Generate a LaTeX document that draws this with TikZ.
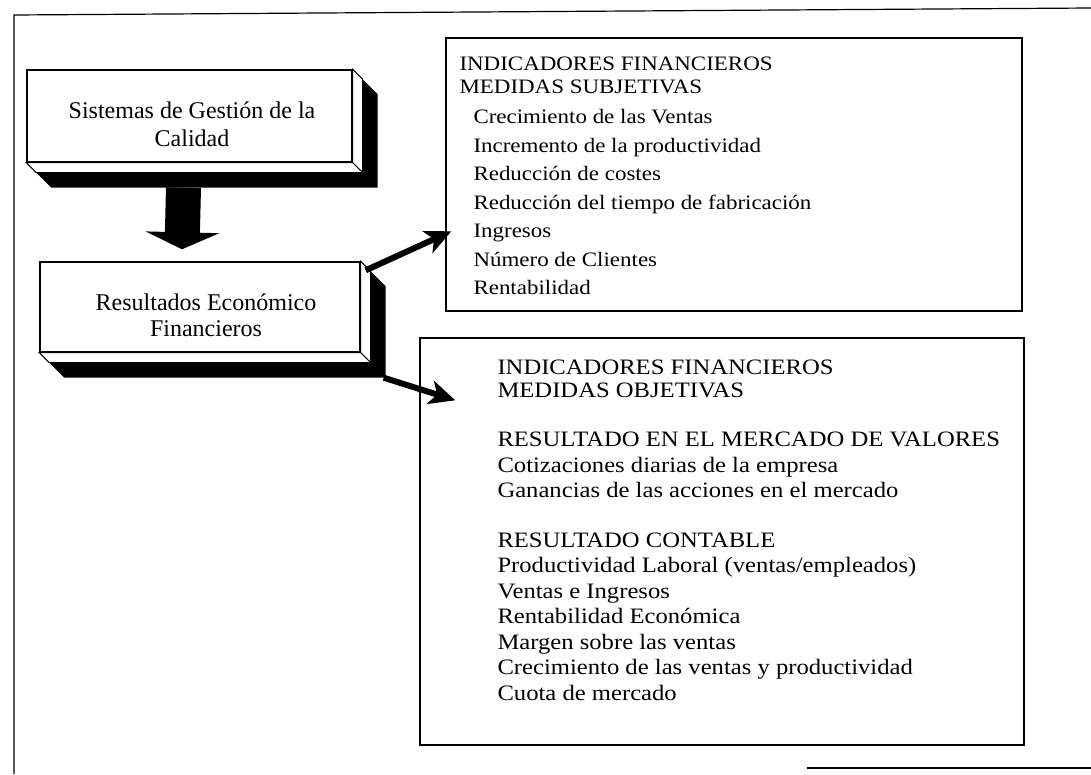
\documentclass[tikz,border=0pt]{standalone}
\usepackage{fontspec}
\setmainfont{Liberation Serif}
\newfontfamily\widefont{Liberation Serif}[FakeStretch=1.12]
\usetikzlibrary{arrows.meta,backgrounds,calc,positioning}
\tikzset{x=1pt,y=-1pt}
\tikzset{
  frontbox/.style={draw,line width=1.4pt,fill=white,align=center,inner sep=0pt},
  listbox/.style={draw,line width=1.4pt,inner sep=0pt},
  listtext/.style={align=left,inner sep=0pt},
  bevel/.style={fill=white,draw,line width=1pt},
  flecha/.style={line width=6pt,-{Stealth[width=24pt,length=26pt,inset=7pt]}}
}
% dark extruded sides of a front box
\newcommand{\solidbox}[1]{%
  \fill ($(#1.north east)+(10,10)$) -- ($(#1.north east)+(25,25)$) -- ($(#1.south east)+(25,25)$)
     -- ($(#1.south west)+(25,25)$) -- ($(#1.south west)+(10,10)$) -- ($(#1.south east)+(10,10)$) -- cycle;
  \draw[bevel] (#1.north east) -- ($(#1.north east)+(10,10)$) -- ($(#1.south east)+(10,10)$) -- (#1.south east) -- cycle;
  \draw[bevel] (#1.south west) -- ($(#1.south west)+(10,10)$) -- ($(#1.south east)+(10,10)$) -- (#1.south east) -- cycle;
}
\begin{document}
\begin{tikzpicture}
\useasboundingbox (0,0) rectangle (1091,774);
% scanned outer frame
\draw[line width=1.2pt] (1091,8) -- (14,15) -- (14,774);
\draw[line width=1.2pt] (807,768) -- (1091,768);

\node[frontbox,minimum width=325pt,minimum height=92pt] (sgc) at (189.5,116) {};
\node[frontbox,minimum width=320pt,minimum height=90pt] (res) at (200,307) {};
\begin{scope}[on background layer]
  \fill[white] (0,0) rectangle (1091,774);
  \solidbox{sgc}
  \solidbox{res}
\end{scope}
\node[font=\fontsize{24}{28}\selectfont,align=center] (sgctext) at (192,124) {Sistemas de Gesti\'on de la\\Calidad};
\node[font=\fontsize{24}{26}\selectfont,align=center] (restext) at (206,315) {Resultados Econ\'omico\\Financieros};

\node[listbox,minimum width=576pt,minimum height=273pt] (subj) at (734,174.5) {};
\node[listbox,minimum width=604pt,minimum height=407pt] (obj) at (722,541.5) {};

\node[listtext,font=\widefont\fontsize{20.5}{28.5}\selectfont,below right=19.5pt and 14pt of subj.north west] (subjtext) {%
  INDICADORES FINANCIEROS\\[-5.5pt]
  MEDIDAS SUBJETIVAS\\[1.5pt]
  \hspace*{14pt}Crecimiento de las Ventas\\
  \hspace*{14pt}Incremento de la productividad\\
  \hspace*{14pt}Reducci\'on de costes\\
  \hspace*{14pt}Reducci\'on del tiempo de fabricaci\'on\\
  \hspace*{14pt}Ingresos\\
  \hspace*{14pt}N\'umero de Clientes\\
  \hspace*{14pt}Rentabilidad};

\node[listtext,font=\widefont\fontsize{22}{25.5}\selectfont,below right=22pt and 78pt of obj.north west] (objtext) {%
  INDICADORES FINANCIEROS\\[-2.5pt]
  MEDIDAS OBJETIVAS\\[24pt]
  RESULTADO EN EL MERCADO DE VALORES\\
  Cotizaciones diarias de la empresa\\
  Ganancias de las acciones en el mercado\\[24pt]
  RESULTADO CONTABLE\\
  Productividad Laboral (ventas/empleados)\\
  Ventas e Ingresos\\
  Rentabilidad Econ\'omica\\
  Margen sobre las ventas\\
  Crecimiento de las ventas y productividad\\
  Cuota de mercado};

% connectors
\draw[line width=35pt,-{Triangle[width=73pt,length=17pt]}] ($(sgc.south)+(-6,25)$) -- ($(res.north)+(-18,-12)$);
\draw[flecha] ($(res.north east)+(5,9)$) -- ($(subj.north west)+(6,194)$);
\draw[flecha] ($(res.south east)+(23,25)$) -- ($(obj.north west)+(36,63)$);
\end{tikzpicture}
\end{document}
